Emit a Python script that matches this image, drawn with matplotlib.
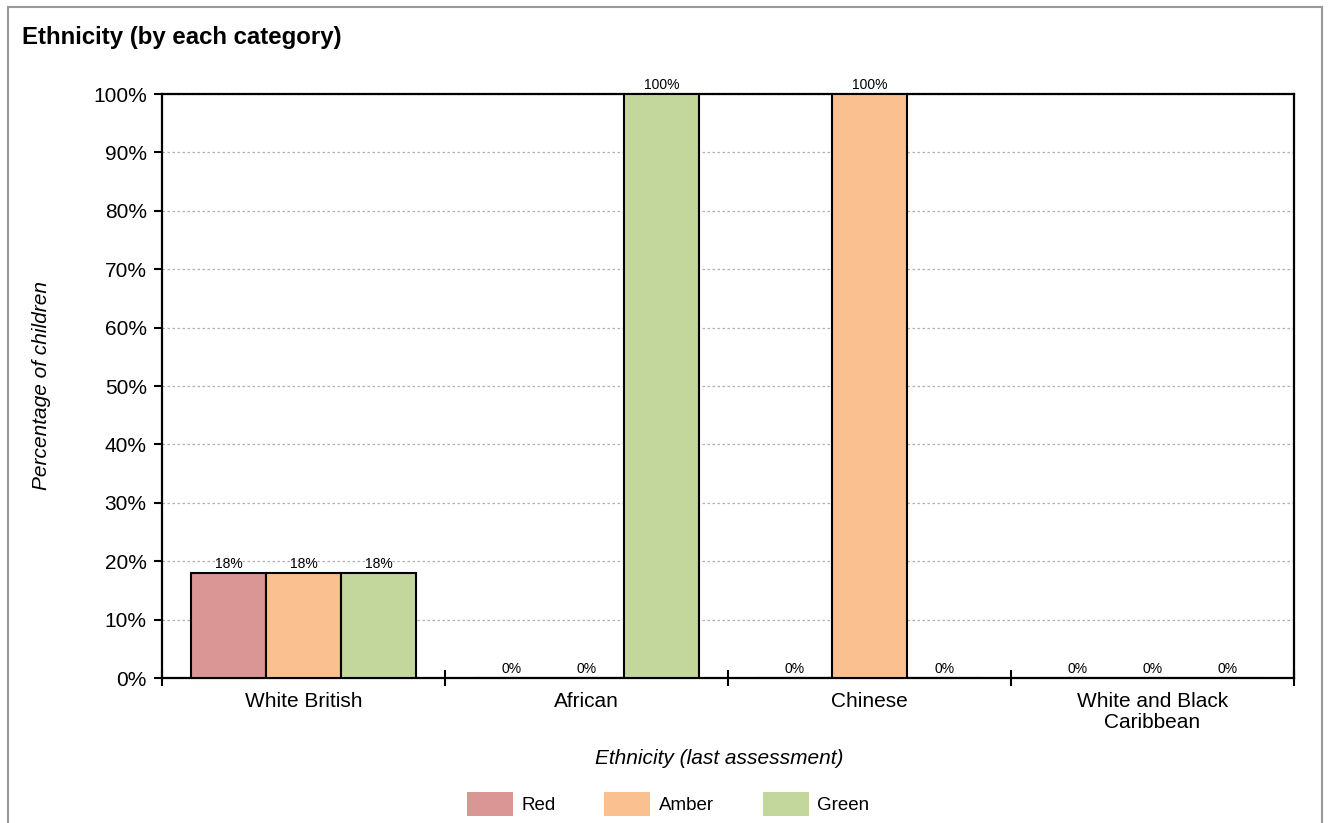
import matplotlib
matplotlib.use("Agg")
import matplotlib.pyplot as plt
from matplotlib.patches import Rectangle, Patch
import numpy as np

categories = ["White British", "African", "Chinese", "White and Black\nCaribbean"]
series_names = ["Red", "Amber", "Green"]
red_vals = [18, 0, 0, 0]
amber_vals = [18, 0, 100, 0]
green_vals = [18, 100, 0, 0]
series_vals = [red_vals, amber_vals, green_vals]
colors = ["#D99694", "#FAC090", "#C3D69B"]
y_ticks = [0, 10, 20, 30, 40, 50, 60, 70, 80, 90, 100]

plt.rcParams["font.family"] = ["Liberation Sans", "DejaVu Sans"]

W, H = 1330, 823
fig = plt.figure(figsize=(W / 100, H / 100), dpi=100)
ax = fig.add_axes([162 / W, 1 - 678 / H, (1294 - 162) / W, (678 - 94) / H])

x = np.arange(len(categories)) + 0.5
bw = 0.265
offsets = [-bw, 0, bw]
for vals, off, col, name in zip(series_vals, offsets, colors, series_names):
    ax.bar(x + off, vals, width=bw, color=col, edgecolor="black",
           linewidth=1.5, label=name, zorder=3)
    for xi, v in zip(x + off, vals):
        ax.annotate(f"{v}%", (xi, v), xytext=(0, 3.5), textcoords="offset points",
                    ha="center", va="baseline", fontsize=10, color="black",
                    annotation_clip=False)

ax.set_xlim(0, len(categories))
ax.set_ylim(0, 100)
ax.set_yticks(y_ticks)
ax.set_yticklabels([f"{t}%" for t in y_ticks], fontsize=15)
ax.set_xticks(x)
ax.set_xticklabels(categories, fontsize=15, linespacing=1.12)
ax.set_xticks(np.arange(len(categories) + 1), minor=True)
ax.tick_params(axis="x", which="major", length=0, pad=10)
ax.tick_params(axis="x", which="minor", length=11, width=1.5, direction="inout")
ax.tick_params(axis="y", which="major", length=6, width=1.5, direction="out", pad=5)

for s in ax.spines.values():
    s.set_linewidth(1.6)
    s.set_color("black")

ax.yaxis.grid(True, linestyle=(0, (2, 2)), color="#b0b0b0", linewidth=0.9, zorder=0)
ax.set_axisbelow(True)

ax.set_ylabel("Percentage of children", fontsize=15, style="italic", va="center")
ax.yaxis.set_label_coords((42 - 162) / (1294 - 162), 0.5)
ax.set_xlabel("Ethnicity (last assessment)", fontsize=15, style="italic", va="center")
ax.xaxis.set_label_coords((719 - 162) / (1294 - 162), (678 - 758) / (678 - 94))

fig.text(22 / W, 1 - 44 / H, "Ethnicity (by each category)", fontsize=17.3,
         fontweight="bold", va="baseline", ha="left")

leg_handles = [Patch(facecolor=c, edgecolor="none") for c in colors]
fig.legend(leg_handles, series_names, loc="center", bbox_to_anchor=(668 / W, 1 - 804 / H),
           ncol=3, frameon=False, fontsize=13.5, handlelength=2.45, handleheight=1.65,
           handletextpad=0.45, columnspacing=2.6)

fig.patches.append(Rectangle((8 / W, -0.05), (1322 - 8) / W, 1.05 - 7 / H,
                             transform=fig.transFigure, fill=False,
                             edgecolor="#999999", linewidth=1.5))

fig.savefig("out.png", dpi=100)
